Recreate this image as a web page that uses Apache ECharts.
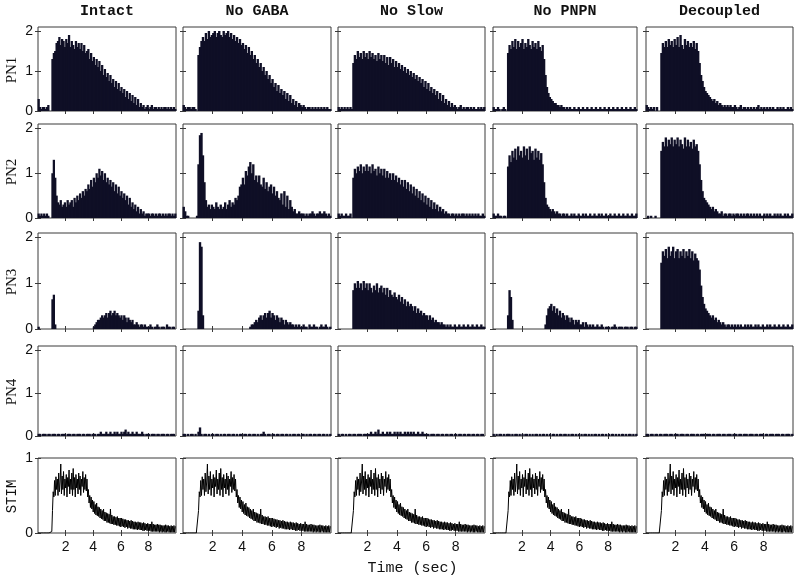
<!DOCTYPE html>
<html><head><meta charset="utf-8">
<script src="https://cdn.jsdelivr.net/npm/echarts@6/dist/echarts.min.js"></script>
<style>html,body{margin:0;padding:0;background:#fff}#c{width:800px;height:582px}</style>
</head><body><div id="c"></div><script>
const conditions = ['Intact','No GABA','No Slow','No PNPN','Decoupled'];
const rowLabels = ['PN1','PN2','PN3','PN4','STIM'];
const xTicks = [2,4,6,8];
const yTicksPN = [0,1,2];
const yTicksStim = [0,1];
const xLabel = 'Time (sec)';

// PN1
const pn1Intact = [0.3,0.1,0.05,0.1,0.1,0.05,0.1,0.15,0.0,0.0,
 1.3,1.45,1.5,1.7,1.75,1.85,1.65,1.8,1.75,1.6,
 1.8,1.7,1.9,1.6,1.75,1.65,1.55,1.75,1.6,1.7,
 1.55,1.7,1.5,1.65,1.45,1.5,1.55,1.3,1.45,1.25,
 1.35,1.15,1.3,1.1,1.25,1.0,1.15,0.9,1.05,0.85,
 0.95,0.75,0.9,0.7,0.8,0.6,0.75,0.55,0.7,0.5,
 0.6,0.45,0.55,0.35,0.5,0.3,0.45,0.25,0.4,0.2,
 0.35,0.15,0.3,0.1,0.2,0.1,0.15,0.05,0.1,0.15,
 0.05,0.1,0.15,0.05,0.1,0.1,0.05,0.1,0.05,0.1,
 0.05,0.1,0.1,0.05,0.1,0.05,0.1,0.05,0.1,0.05];
const pn1NoGaba = [0.15,0.1,0.05,0.1,0.1,0.05,0.1,0.1,0.05,0.0,
 1.4,1.6,1.75,1.85,1.75,1.95,1.8,2.0,1.85,1.9,
 1.95,2.0,1.85,1.95,2.0,1.9,1.85,2.0,1.9,1.95,
 2.0,1.85,1.95,1.8,1.9,1.75,1.85,1.7,1.8,1.65,
 1.7,1.55,1.65,1.45,1.6,1.4,1.5,1.3,1.4,1.2,
 1.3,1.1,1.2,1.0,1.1,0.9,1.0,0.8,0.9,0.7,
 0.8,0.6,0.7,0.5,0.65,0.45,0.55,0.4,0.5,0.3,
 0.45,0.25,0.4,0.2,0.3,0.15,0.25,0.1,0.2,0.15,
 0.1,0.15,0.1,0.05,0.1,0.1,0.05,0.1,0.05,0.1,
 0.05,0.1,0.05,0.1,0.05,0.1,0.05,0.1,0.05,0.05];
const pn1NoSlow = [0.1,0.05,0.1,0.05,0.1,0.05,0.1,0.05,0.1,0.05,
 1.2,1.4,1.3,1.5,1.35,1.45,1.3,1.5,1.35,1.45,
 1.3,1.5,1.35,1.45,1.3,1.4,1.25,1.45,1.3,1.4,
 1.25,1.4,1.2,1.35,1.15,1.35,1.2,1.3,1.1,1.25,
 1.1,1.2,1.05,1.15,1.0,1.1,0.95,1.05,0.9,1.0,
 0.85,0.95,0.8,0.9,0.75,0.85,0.7,0.8,0.6,0.75,
 0.55,0.7,0.5,0.6,0.45,0.55,0.4,0.5,0.3,0.45,
 0.25,0.4,0.2,0.3,0.15,0.25,0.1,0.2,0.1,0.15,
 0.1,0.05,0.1,0.15,0.05,0.1,0.05,0.1,0.1,0.05,
 0.1,0.05,0.1,0.05,0.05,0.1,0.05,0.1,0.05,0.1];
const pn1NoPnpn = [0.1,0.05,0.05,0.1,0.05,0.0,0.05,0.1,0.05,0.0,
 1.45,1.65,1.55,1.75,1.6,1.8,1.55,1.75,1.6,1.7,
 1.8,1.55,1.7,1.6,1.8,1.65,1.55,1.75,1.6,1.7,
 1.55,1.75,1.6,1.5,1.65,1.3,0.9,0.6,0.45,0.35,
 0.3,0.25,0.2,0.2,0.15,0.15,0.1,0.15,0.1,0.1,
 0.05,0.1,0.05,0.1,0.05,0.05,0.1,0.05,0.05,0.1,
 0.05,0.05,0.1,0.05,0.05,0.1,0.05,0.05,0.1,0.05,
 0.05,0.1,0.05,0.05,0.1,0.05,0.05,0.1,0.05,0.05,
 0.1,0.05,0.05,0.1,0.05,0.05,0.1,0.05,0.05,0.1,
 0.05,0.05,0.1,0.05,0.05,0.1,0.05,0.05,0.1,0.05];
const pn1Decoupled = [0.15,0.1,0.05,0.1,0.05,0.1,0.0,0.1,0.0,0.0,
 1.45,1.7,1.6,1.75,1.6,1.8,1.65,1.75,1.6,1.8,
 1.65,1.85,1.6,1.9,1.65,1.55,1.8,1.65,1.75,1.6,
 1.7,1.6,1.75,1.55,1.7,1.5,1.2,0.9,0.75,0.6,
 0.5,0.45,0.4,0.35,0.3,0.25,0.3,0.2,0.25,0.15,
 0.2,0.15,0.1,0.15,0.1,0.15,0.1,0.15,0.1,0.1,
 0.15,0.1,0.05,0.1,0.15,0.05,0.1,0.1,0.05,0.1,
 0.05,0.1,0.05,0.1,0.05,0.1,0.15,0.05,0.1,0.05,
 0.1,0.05,0.1,0.05,0.1,0.05,0.1,0.05,0.05,0.1,
 0.05,0.1,0.05,0.1,0.05,0.05,0.1,0.05,0.1,0.05];
// PN2
const pn2Intact = [0.1,0.05,0.1,0.05,0.1,0.05,0.1,0.05,0.0,0.0,
 1.0,1.3,0.9,0.5,0.35,0.3,0.4,0.25,0.3,0.35,
 0.25,0.4,0.3,0.35,0.4,0.25,0.45,0.35,0.5,0.4,
 0.55,0.45,0.6,0.5,0.65,0.6,0.75,0.65,0.85,0.7,
 0.9,0.8,1.0,0.9,1.1,0.95,1.05,0.85,1.0,0.8,
 0.9,0.75,0.85,0.7,0.8,0.6,0.75,0.55,0.7,0.5,
 0.6,0.45,0.55,0.4,0.5,0.3,0.45,0.25,0.35,0.2,
 0.3,0.15,0.25,0.1,0.2,0.1,0.15,0.05,0.1,0.1,
 0.1,0.05,0.1,0.1,0.05,0.1,0.05,0.1,0.1,0.05,
 0.1,0.05,0.1,0.05,0.1,0.1,0.05,0.1,0.05,0.1];
const pn2NoGaba = [0.25,0.15,0.05,0.05,0.0,0.0,0.0,0.0,0.0,0.05,
 1.2,1.85,1.9,1.4,0.8,0.4,0.25,0.3,0.2,0.3,
 0.25,0.2,0.35,0.25,0.2,0.3,0.2,0.25,0.35,0.2,
 0.3,0.4,0.25,0.35,0.3,0.45,0.4,0.5,0.7,0.75,
 0.9,0.75,1.05,0.95,1.15,1.25,1.0,1.2,0.85,0.95,
 0.8,0.95,0.75,0.7,0.9,0.65,0.8,0.6,0.7,0.75,
 0.55,0.7,0.5,0.6,0.45,0.4,0.55,0.3,0.6,0.25,
 0.5,0.2,0.4,0.25,0.15,0.2,0.1,0.1,0.15,0.1,
 0.1,0.1,0.05,0.1,0.05,0.1,0.1,0.15,0.1,0.05,
 0.1,0.1,0.15,0.1,0.1,0.15,0.1,0.05,0.1,0.05];
const pn2NoSlow = [0.1,0.05,0.1,0.05,0.05,0.1,0.05,0.05,0.1,0.0,
 0.9,1.1,1.0,1.15,1.05,1.2,1.0,1.15,1.05,1.2,
 1.05,1.15,1.0,1.2,1.05,1.1,0.95,1.15,1.0,1.1,
 0.95,1.1,0.9,1.05,0.9,1.0,0.85,1.0,0.85,0.95,
 0.8,0.9,0.75,0.85,0.7,0.85,0.65,0.8,0.6,0.75,
 0.55,0.7,0.5,0.65,0.45,0.6,0.4,0.55,0.35,0.5,
 0.3,0.45,0.25,0.4,0.2,0.35,0.2,0.3,0.15,0.25,
 0.15,0.2,0.1,0.15,0.1,0.1,0.05,0.1,0.1,0.05,
 0.1,0.05,0.1,0.05,0.1,0.1,0.05,0.1,0.05,0.1,
 0.05,0.1,0.05,0.1,0.05,0.1,0.05,0.05,0.1,0.05];
const pn2NoPnpn = [0.1,0.05,0.05,0.1,0.05,0.05,0.0,0.05,0.05,0.0,
 1.15,1.4,1.25,1.5,1.35,1.55,1.3,1.6,1.4,1.5,
 1.35,1.6,1.4,1.55,1.3,1.6,1.45,1.5,1.3,1.55,
 1.35,1.5,1.3,1.45,1.2,0.8,0.45,0.3,0.25,0.2,
 0.15,0.2,0.15,0.1,0.15,0.1,0.1,0.05,0.1,0.1,
 0.05,0.1,0.05,0.05,0.1,0.05,0.1,0.05,0.05,0.1,
 0.05,0.05,0.1,0.05,0.1,0.05,0.05,0.1,0.05,0.05,
 0.1,0.05,0.05,0.1,0.05,0.1,0.05,0.05,0.1,0.05,
 0.05,0.1,0.05,0.05,0.1,0.05,0.05,0.1,0.05,0.05,
 0.1,0.05,0.05,0.1,0.05,0.05,0.1,0.05,0.05,0.1];
const pn2Decoupled = [0.0,0.05,0.0,0.05,0.0,0.0,0.05,0.0,0.0,0.0,
 1.5,1.7,1.6,1.8,1.6,1.75,1.65,1.8,1.6,1.75,
 1.65,1.8,1.6,1.75,1.65,1.55,1.8,1.6,1.75,1.6,
 1.7,1.55,1.75,1.6,1.65,1.5,1.2,0.85,0.6,0.45,
 0.4,0.35,0.3,0.25,0.2,0.25,0.15,0.2,0.15,0.1,
 0.1,0.15,0.05,0.1,0.1,0.05,0.1,0.1,0.05,0.1,
 0.05,0.1,0.1,0.05,0.1,0.05,0.1,0.05,0.1,0.1,
 0.05,0.1,0.05,0.1,0.05,0.1,0.05,0.1,0.05,0.05,
 0.1,0.05,0.1,0.05,0.1,0.05,0.05,0.1,0.05,0.1,
 0.05,0.1,0.05,0.05,0.1,0.05,0.1,0.05,0.05,0.1];
// PN3
const pn3Intact = [0.05,0,0,0,0,0,0,0,0,0,
 0.65,0.75,0.1,0,0,0,0,0,0,0,
 0,0,0,0,0,0,0,0,0,0,
 0,0,0,0,0,0,0,0,0,0,
 0.05,0.1,0.15,0.2,0.2,0.25,0.3,0.25,0.3,0.35,
 0.25,0.35,0.4,0.3,0.35,0.4,0.3,0.35,0.3,0.25,
 0.3,0.2,0.3,0.25,0.15,0.25,0.2,0.15,0.2,0.1,
 0.1,0.15,0.1,0.05,0.1,0.1,0.05,0.1,0.05,0.05,
 0.05,0.1,0.05,0,0.05,0.05,0.1,0.05,0,0.05,
 0.05,0.05,0,0.1,0.05,0.05,0,0.05,0.05,0];
const pn3NoGaba = [0,0,0,0,0,0,0,0,0,0,
 0.4,1.9,1.8,0.3,0,0,0,0,0,0,
 0,0,0,0,0,0,0,0,0,0,
 0,0,0,0,0,0,0,0,0,0,
 0,0,0,0,0,0.05,0.1,0.1,0.15,0.2,
 0.15,0.25,0.3,0.2,0.3,0.35,0.25,0.35,0.4,0.25,
 0.35,0.3,0.2,0.3,0.25,0.15,0.25,0.2,0.1,0.2,
 0.15,0.1,0.15,0.1,0.1,0.05,0.1,0.05,0.1,0.05,
 0.05,0.1,0.05,0.05,0,0.1,0.05,0.05,0.1,0.05,
 0.05,0,0.05,0.1,0.05,0.05,0.1,0.05,0,0.05];
const pn3NoSlow = [0,0,0,0,0,0,0,0,0,0,
 0.85,1.0,0.9,1.05,0.9,1.0,0.85,1.05,0.9,1.0,
 0.85,1.0,0.9,0.8,0.95,0.85,1.0,0.8,0.9,0.95,
 0.8,0.9,0.75,0.9,0.7,0.85,0.75,0.7,0.8,0.7,
 0.65,0.75,0.6,0.7,0.55,0.65,0.5,0.6,0.5,0.55,
 0.5,0.4,0.5,0.35,0.45,0.35,0.4,0.3,0.35,0.3,
 0.3,0.2,0.3,0.2,0.25,0.15,0.2,0.15,0.15,0.1,
 0.15,0.1,0.1,0.05,0.1,0.05,0.1,0.05,0.05,0.1,
 0.05,0.05,0.1,0.05,0.05,0.1,0.05,0.05,0.1,0.05,
 0.05,0.1,0.05,0.05,0.1,0.05,0.05,0.1,0.05,0.05];
const pn3NoPnpn = [0,0,0,0,0,0,0,0,0,0,
 0.3,0.85,0.7,0.2,0,0,0,0,0,0,
 0,0,0,0,0,0,0,0,0,0,
 0,0,0,0,0,0,0.1,0.3,0.45,0.5,
 0.55,0.4,0.5,0.35,0.45,0.3,0.4,0.25,0.35,0.3,
 0.2,0.3,0.25,0.15,0.25,0.2,0.1,0.2,0.15,0.2,
 0.1,0.1,0.15,0.05,0.15,0.1,0.05,0.1,0.05,0.1,
 0.05,0.05,0.1,0.05,0.05,0.1,0.05,0,0.05,0.05,
 0.05,0,0.05,0.05,0.1,0.05,0,0.05,0.05,0.05,
 0,0.05,0.05,0.05,0,0.05,0.05,0,0.05,0.05];
const pn3Decoupled = [0,0,0,0,0,0,0,0,0,0,
 1.45,1.7,1.6,1.75,1.55,1.8,1.6,1.7,1.8,1.55,
 1.7,1.75,1.55,1.7,1.6,1.75,1.55,1.7,1.6,1.75,
 1.55,1.7,1.5,1.65,1.55,1.5,1.3,0.95,0.7,0.55,
 0.45,0.4,0.35,0.3,0.25,0.3,0.2,0.25,0.15,0.2,
 0.15,0.1,0.15,0.1,0.05,0.1,0.1,0.05,0.1,0.05,
 0.1,0.05,0.1,0.05,0.1,0.05,0.05,0.1,0.05,0.1,
 0.05,0.1,0.05,0.05,0.1,0.05,0.1,0.05,0.05,0.1,
 0.05,0.05,0.1,0.05,0.1,0.05,0.05,0.1,0.05,0.05,
 0.1,0.05,0.05,0.1,0.05,0.05,0.1,0.05,0.05,0.1];
// PN4
const pn4Intact = [0.05,0.05,0,0.05,0.05,0.05,0,0.05,0.05,0,
 0.05,0.05,0.05,0,0.05,0.05,0,0.05,0.05,0.05,
 0,0.05,0.05,0.05,0,0.05,0.05,0,0.05,0.05,
 0.05,0,0.05,0.05,0,0.05,0.05,0.05,0,0.05,
 0.05,0.05,0,0.05,0.05,0.1,0.05,0.05,0.05,0.1,
 0.05,0.05,0.1,0.05,0.05,0.1,0.05,0.1,0.05,0.05,
 0.1,0.05,0.1,0.15,0.05,0.1,0.05,0.05,0.1,0.05,
 0.05,0.1,0.05,0.05,0.05,0.1,0.05,0,0.05,0.05,
 0.05,0,0.05,0.05,0.05,0,0.05,0.05,0,0.05,
 0.05,0.05,0,0.05,0.05,0,0.05,0.05,0.05,0];
const pn4NoGaba = [0.05,0.05,0,0.05,0,0.05,0.05,0,0.05,0,
 0.1,0.2,0.05,0,0.05,0.05,0,0.05,0,0.05,
 0.05,0,0.05,0.05,0,0.05,0,0.05,0.05,0,
 0.05,0.05,0,0.05,0.05,0,0.05,0,0.05,0.05,
 0,0.05,0.05,0,0.05,0.05,0,0.05,0.05,0,
 0.05,0,0.05,0.05,0.1,0.05,0,0.05,0.05,0,
 0.05,0.05,0,0.05,0.05,0,0.05,0.05,0,0.05,
 0.05,0,0.05,0,0.05,0.05,0,0.05,0.05,0,
 0.05,0.05,0,0.05,0,0.05,0.05,0,0.05,0.05,
 0,0.05,0.05,0,0.05,0.05,0,0.05,0,0.05];
const pn4NoSlow = [0.05,0,0.05,0.05,0,0.05,0,0.05,0.05,0,
 0.05,0.05,0,0.05,0.05,0.05,0,0.05,0.05,0.05,
 0.05,0.05,0.1,0.05,0.05,0.1,0.05,0.15,0.05,0.05,
 0.1,0.05,0.05,0.1,0.05,0.1,0.05,0.05,0.1,0.05,
 0.1,0.05,0.1,0.05,0.05,0.1,0.05,0.1,0.05,0.1,
 0.05,0.1,0.05,0.05,0.1,0.05,0.05,0.1,0.05,0.05,
 0.05,0.05,0,0.05,0.05,0.05,0,0.05,0.05,0,
 0.05,0.05,0,0.05,0.05,0,0.05,0.05,0,0.05,
 0.05,0,0.05,0.05,0,0.05,0.05,0,0.05,0.05,
 0,0.05,0.05,0,0.05,0.05,0,0.05,0.05,0];
const pn4NoPnpn = [0.05,0,0.05,0,0.05,0.05,0,0.05,0,0.05,
 0.05,0.05,0,0.05,0,0.05,0.05,0,0.05,0,
 0.05,0,0.05,0.05,0,0.05,0,0.05,0,0.05,
 0.05,0,0.05,0,0.05,0.05,0,0.05,0,0.05,
 0,0.05,0.05,0,0.05,0,0.05,0.05,0,0.05,
 0.05,0,0.05,0,0.05,0.05,0,0.05,0,0.05,
 0,0.05,0,0.05,0.05,0,0.05,0,0.05,0,
 0.05,0.05,0,0.05,0,0.05,0.05,0,0.05,0,
 0.05,0,0.05,0.05,0,0.05,0,0.05,0,0.05,
 0.05,0,0.05,0,0.05,0.05,0,0.05,0,0.05];
const pn4Decoupled = [0.05,0.05,0,0.05,0.05,0,0.05,0.05,0,0.05,
 0.05,0,0.05,0.05,0.05,0,0.05,0.05,0,0.05,
 0.05,0.05,0,0.05,0.05,0.05,0,0.05,0.05,0,
 0.05,0.05,0.05,0,0.05,0.05,0,0.05,0.05,0.05,
 0,0.05,0.05,0.05,0,0.05,0.05,0,0.05,0.05,
 0.05,0,0.05,0.05,0,0.05,0.05,0.05,0,0.05,
 0.05,0.05,0,0.05,0.05,0,0.05,0.05,0.05,0,
 0.05,0.05,0.05,0,0.05,0.05,0,0.05,0.05,0.05,
 0,0.05,0.05,0,0.05,0.05,0.05,0,0.05,0.05,
 0.05,0,0.05,0.05,0,0.05,0.05,0.05,0,0.05];
// STIM (sampled every 0.05 s from 0 to 9.95 s)
const stim = [0,0,0,0,0,0,0,0,0,0,0,0,0,0,0,0,0,0,0,0,
 0.02,0.3,0.55,0.48,0.7,0.5,0.75,0.58,0.72,0.5,
 0.8,0.55,0.68,0.92,0.52,0.76,0.58,0.82,0.5,0.72,
 0.6,0.78,0.48,0.74,0.62,0.84,0.52,0.72,0.58,0.8,
 0.5,0.86,0.58,0.74,0.48,0.78,0.6,0.72,0.52,0.8,
 0.58,0.76,0.5,0.72,0.62,0.82,0.54,0.74,0.58,0.78,
 0.56,0.72,0.48,0.58,0.4,0.5,0.34,0.48,0.32,0.44,
 0.28,0.42,0.26,0.38,0.24,0.4,0.23,0.35,0.22,0.34,
 0.2,0.32,0.19,0.3,0.18,0.32,0.16,0.28,0.16,0.27,
 0.14,0.26,0.14,0.25,0.13,0.32,0.12,0.24,0.12,0.22,
 0.11,0.22,0.11,0.21,0.1,0.22,0.1,0.2,0.09,0.2,
 0.08,0.2,0.09,0.19,0.08,0.18,0.07,0.18,0.08,0.17,
 0.06,0.17,0.07,0.16,0.06,0.17,0.06,0.16,0.05,0.15,
 0.05,0.15,0.05,0.14,0.04,0.15,0.05,0.14,0.04,0.14,
 0.04,0.13,0.03,0.14,0.03,0.13,0.04,0.12,0.03,0.13,
 0.03,0.12,0.03,0.12,0.02,0.15,0.02,0.12,0.02,0.11,
 0.02,0.11,0.02,0.12,0.02,0.11,0.01,0.11,0.02,0.1,
 0.01,0.1,0.02,0.1,0.01,0.11,0.01,0.1,0.02,0.1,
 0.01,0.09,0.01,0.1,0.01,0.09,0.01,0.1,0.01,0.09];

const pnRows = [
  [pn1Intact, pn1NoGaba, pn1NoSlow, pn1NoPnpn, pn1Decoupled],
  [pn2Intact, pn2NoGaba, pn2NoSlow, pn2NoPnpn, pn2Decoupled],
  [pn3Intact, pn3NoGaba, pn3NoSlow, pn3NoPnpn, pn3Decoupled],
  [pn4Intact, pn4NoGaba, pn4NoSlow, pn4NoPnpn, pn4Decoupled]
];
const binWidth = 0.1, stimStep = 0.05;

// layout
const colLeft = [38,183,338,493,646], colRight = [176,331,485,637,793];
const rowTop = [27,124,233,346,458], rowBottom = [111,218,329,436,533];
const BAR = '#0f0f26', BORDER = '#3a3a3a', TXT = '#111';

const grids = [], xAxes = [], yAxes = [], series = [], graphics = [];
let g = 0;
for (let r = 0; r < 5; r++) {
  for (let c = 0; c < 5; c++) {
    const w = colRight[c] - colLeft[c], h = rowBottom[r] - rowTop[r];
    grids.push({left: colLeft[c], top: rowTop[r], width: w, height: h,
      show: true, borderColor: BORDER, borderWidth: 1, backgroundColor: '#fff'});
    const xt = {show: true, inside: true, length: 3, customValues: xTicks, lineStyle: {color: BORDER, width: 1}};
    const yVals = r === 4 ? yTicksStim : yTicksPN;
    const yt = {show: true, inside: true, length: 3, customValues: yVals, lineStyle: {color: BORDER, width: 1}};
    xAxes.push({gridIndex: g, type: 'value', min: 0, max: 10, position: 'bottom',
      axisLine: {show: false}, axisTick: xt, splitLine: {show: false},
      axisLabel: {show: r === 4, margin: 7, customValues: xTicks, fontFamily: 'Liberation Sans', fontSize: 14, color: TXT}});
    xAxes.push({gridIndex: g, type: 'value', min: 0, max: 10, position: 'top',
      axisLine: {show: false}, axisTick: xt, splitLine: {show: false}, axisLabel: {show: false}});
    const ymax = r === 4 ? 1 : 2.1;
    yAxes.push({gridIndex: g, type: 'value', min: 0, max: ymax, position: 'left',
      axisLine: {show: false}, axisTick: yt, splitLine: {show: false},
      axisLabel: {show: c === 0, margin: 5, customValues: yVals, fontFamily: 'Liberation Sans', fontSize: 14, color: TXT}});
    yAxes.push({gridIndex: g, type: 'value', min: 0, max: ymax, position: 'right',
      axisLine: {show: false}, axisTick: yt, splitLine: {show: false}, axisLabel: {show: false}});
    if (r < 4) {
      const vals = pnRows[r][c];
      series.push({type: 'bar', xAxisIndex: 2 * g, yAxisIndex: 2 * g,
        data: vals.map((v, i) => [i * binWidth + binWidth / 2, v]),
        barWidth: w / 100 + 0.9, itemStyle: {color: BAR}, silent: true, animation: false, z: 1});
    } else {
      series.push({type: 'line', xAxisIndex: 2 * g, yAxisIndex: 2 * g,
        data: stim.map((v, i) => [i * stimStep, v]),
        showSymbol: false, lineStyle: {color: '#000', width: 1}, silent: true, animation: false});
    }
    g++;
  }
}
for (let c = 0; c < 5; c++) {
  graphics.push({type: 'text', x: (colLeft[c] + colRight[c]) / 2, y: 11,
    style: {text: conditions[c], font: 'bold 15px "Liberation Mono"', fill: TXT, align: 'center', verticalAlign: 'middle'}});
}
for (let r = 0; r < 5; r++) {
  graphics.push({type: 'text', x: 12, y: (rowTop[r] + rowBottom[r]) / 2 + 1, rotation: Math.PI / 2,
    style: {text: rowLabels[r], font: r === 4 ? '14px "Liberation Mono"' : '15px "Liberation Serif"',
      fill: TXT, align: 'center', verticalAlign: 'middle'}});
}
graphics.push({type: 'text', x: (colLeft[2] + colRight[2]) / 2 + 1, y: 568,
  style: {text: xLabel, font: '15px "Liberation Mono"', fill: TXT, align: 'center', verticalAlign: 'middle'}});

const chart = echarts.init(document.getElementById('c'));
chart.setOption({animation: false, backgroundColor: '#fff', grid: grids, xAxis: xAxes, yAxis: yAxes,
  series: series, graphic: graphics});
</script></body></html>
